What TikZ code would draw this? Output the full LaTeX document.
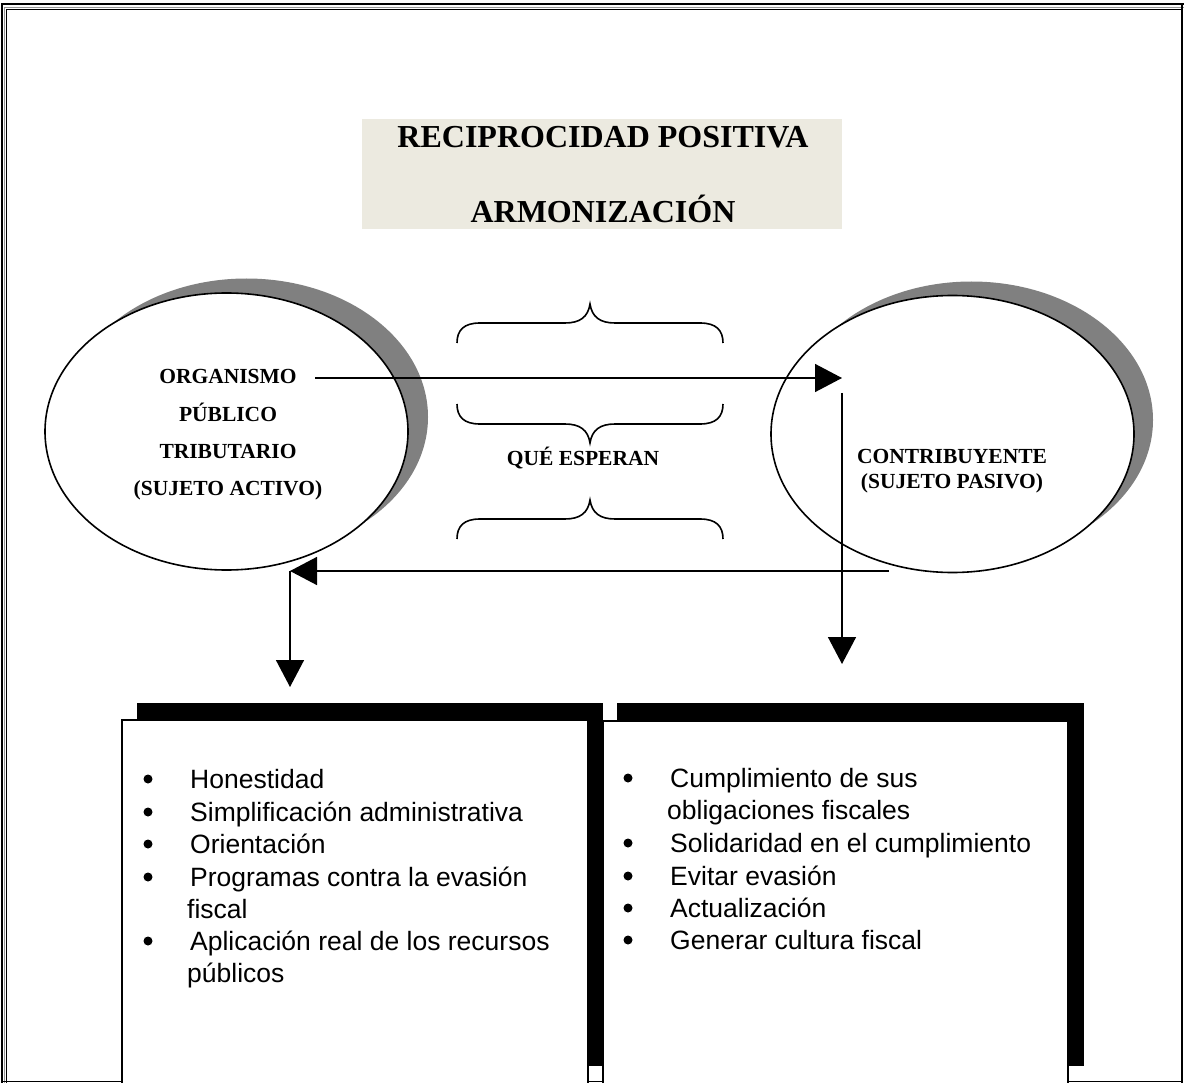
\documentclass[tikz,border=0pt]{standalone}
\usepackage{fontspec}
\setmainfont{Liberation Serif}
\newfontfamily\listfont{Liberation Sans}
\usetikzlibrary{arrows.meta,shapes.geometric}
\definecolor{titlefill}{RGB}{236,234,224}
\definecolor{shadowgrey}{RGB}{128,128,128}
\definecolor{framegrey}{RGB}{150,150,150}

\begin{document}
\begin{tikzpicture}[x=1pt,y=-1pt,
  bubble/.style={ellipse,draw,line width=1.6pt,fill=white,minimum width=363pt,minimum height=277pt,inner sep=0pt},
  bubbleshadow/.style={ellipse,fill=shadowgrey,minimum width=363pt,minimum height=277pt,inner sep=0pt},
  bubbletext/.style={font=\fontsize{21.5}{25}\selectfont\bfseries,anchor=base,inner sep=0pt},
  titletext/.style={font=\fontsize{32}{38}\selectfont\bfseries,anchor=base,inner sep=0pt},
  listbox/.style={draw,line width=1.6pt,fill=white,inner sep=0pt},
  boxshadow/.style={fill=black},
  item/.style={font=\listfont\fontsize{26.5}{32}\selectfont,anchor=base west,inner sep=0pt},
  dot/.style={circle,fill=black,inner sep=0pt,minimum size=9pt},
  flow/.style={line width=1.5pt,-{Triangle[length=27pt,width=28pt]}},
  curly/.style={line width=1.6pt},
  curlybrace/.pic={\draw[curly] (-133,20) .. controls (-133,7) and (-126,0) .. (-110,0)
      -- (-25,0) .. controls (-10,0) and (-2,-6) .. (0,-19)
      .. controls (2,-6) and (10,0) .. (25,0) -- (110,0)
      .. controls (126,0) and (133,7) .. (133,20);}
]
\useasboundingbox (0,0) rectangle (1184,1083);
\fill[white] (0,0) rectangle (1184,1083);

% page border
\draw[line width=2pt] (1.5,1083) -- (1.5,4.5) -- (1184,4.5);
\draw[line width=1.4pt,framegrey] (4.5,1083) -- (4.5,7.5) -- (1184,7.5);
\draw[line width=1pt] (6.5,1083) -- (6.5,9.5) -- (1182,9.5);
\draw[line width=1.5pt] (1182,4.5) -- (1182,1083);
\draw[line width=1.5pt] (1.5,1081.5) -- (1182,1081.5);

% title
\node[fill=titlefill,minimum width=480pt,minimum height=110pt,inner sep=0pt] (title) at (602,174) {};
\node[titletext] (t1) at (603,148) {RECIPROCIDAD POSITIVA};
\node[titletext] (t2) at (603,223) {ARMONIZACIÓN};

% the two parties
\node[bubbleshadow] (sa-shadow) at (246.5,417) {};
\node[bubble] (sa) at (226.5,431.5) {};
\node[bubbleshadow] (sp-shadow) at (971.5,420) {};
\node[bubble] (sp) at (952.5,434) {};

\node[bubbletext] (sa1) at (228,384) {ORGANISMO};
\node[bubbletext] (sa2) at (228,421) {PÚBLICO};
\node[bubbletext] (sa3) at (228,458) {TRIBUTARIO};
\node[bubbletext] (sa4) at (228,495) {(SUJETO ACTIVO)};
\node[bubbletext] (sp1) at (952,463) {CONTRIBUYENTE};
\node[bubbletext] (sp2) at (952,488) {(SUJETO PASIVO)};

% braces and middle label
\pic (br1) at (590,323) {curlybrace};
\pic[yscale=-1] (br2) at (590,424) {curlybrace};
\pic (br3) at (590,519) {curlybrace};
\node[bubbletext] (que) at (583,465) {QUÉ ESPERAN};

% connectors
\coordinate (a1s) at (315,378);
\coordinate (a1e) at (842,378);
\coordinate (a2s) at (842,393);
\coordinate (a2e) at (842,664);
\coordinate (a3s) at (889,571);
\coordinate (a3e) at (290,571);
\coordinate (a4e) at (290,687);
\draw[flow] (a1s) -- (a1e);
\draw[flow] (a2s) -- (a2e);
\draw[flow] (a3s) -- (a3e);
\draw[flow] (a3e) -- (a4e);

% expectation boxes with offset shadows
\fill[boxshadow] (137,703) rectangle (603,1066);
\node[listbox,minimum width=466pt,minimum height=364pt,anchor=north west] (leftbox) at (121,719) {};
\fill[boxshadow] (617,703) rectangle (1084,1066);
\node[listbox,minimum width=465pt,minimum height=363pt,anchor=north west] (rightbox) at (602,720) {};

% left list
\node[dot] (lb1) at (148,779) {};
\node[item] (l1) at (190,788) {Honestidad};
\node[dot] (lb2) at (148,812) {};
\node[item] (l2) at (190,821) {Simplificación administrativa};
\node[dot] (lb3) at (148,844) {};
\node[item] (l3) at (190,853) {Orientación};
\node[dot] (lb4) at (148,877) {};
\node[item] (l4) at (190,886) {Programas contra la evasión};
\node[item] (l4b) at (187,918) {fiscal};
\node[dot] (lb5) at (148,941) {};
\node[item] (l5) at (190,950) {Aplicación real de los recursos};
\node[item] (l5b) at (187,982) {públicos};

% right list
\node[dot] (rb1) at (628,778) {};
\node[item] (r1) at (670,787) {Cumplimiento de sus};
\node[item] (r1b) at (667,819) {obligaciones fiscales};
\node[dot] (rb2) at (628,843) {};
\node[item] (r2) at (670,852) {Solidaridad en el cumplimiento};
\node[dot] (rb3) at (628,876) {};
\node[item] (r3) at (670,885) {Evitar evasión};
\node[dot] (rb4) at (628,908) {};
\node[item] (r4) at (670,917) {Actualización};
\node[dot] (rb5) at (628,940) {};
\node[item] (r5) at (670,949) {Generar cultura fiscal};
\end{tikzpicture}
\end{document}
